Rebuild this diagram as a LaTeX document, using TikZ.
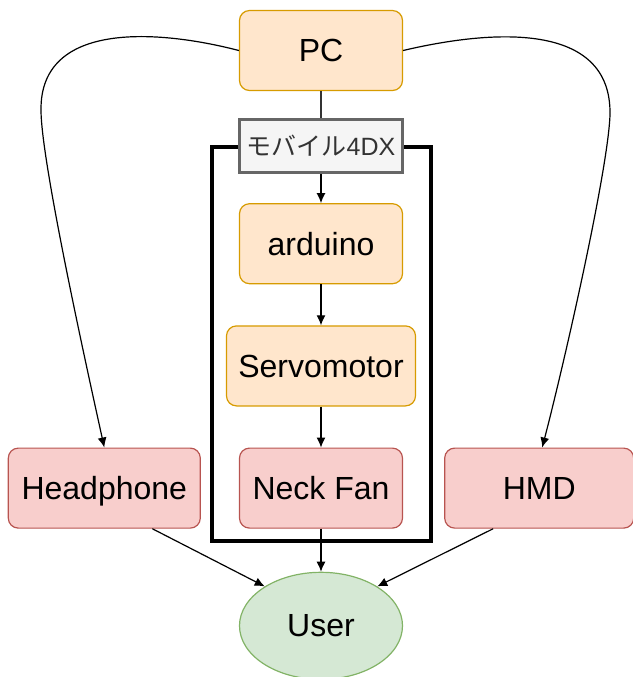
\documentclass[tikz,border=0pt]{standalone}
\usepackage{fontspec}
\setmainfont{Liberation Sans}
\newfontfamily\jpfont{Noto Sans CJK JP}
\usetikzlibrary{arrows.meta,positioning,shapes.geometric}

\definecolor{orfill}{HTML}{FFE6CC}
\definecolor{ordraw}{HTML}{D79B00}
\definecolor{rdfill}{HTML}{F8CECC}
\definecolor{rddraw}{HTML}{B85450}
\definecolor{gnfill}{HTML}{D5E8D4}
\definecolor{gndraw}{HTML}{82B366}
\definecolor{tagfill}{HTML}{F5F5F5}
\definecolor{tagdraw}{HTML}{666666}
\definecolor{tagtext}{HTML}{333333}

\begin{document}
\begin{tikzpicture}[x=0.5pt,y=-0.5pt,node distance=20.5pt,>={Latex[length=5pt,width=4.5pt]},
    box/.style={draw,rounded corners=5pt,minimum width=81.5pt,minimum height=40pt,%
      text depth=0pt,font=\fontsize{16}{19}\selectfont,line width=0.6pt},
    orbox/.style={box,fill=orfill,draw=ordraw},
    rdbox/.style={box,fill=rdfill,draw=rddraw},
    link/.style={->,line width=0.6pt}]
    \useasboundingbox (0,0) rectangle (633,677);
    \node[orbox] (pc) at (321,50.5) {PC};
    \node[orbox,below=56pt of pc] (ard) {arduino};
    \node[orbox,below=of ard,minimum width=94.5pt] (servo) {Servomotor};
    \node[rdbox,below=of servo] (neck) {Neck Fan};
    \node[rdbox,left=19pt of neck,minimum width=96pt] (head) {Headphone};
    \node[rdbox,right=of neck,minimum width=94.5pt] (hmd) {HMD};
    \node[ellipse,draw=gndraw,fill=gnfill,line width=0.6pt,minimum width=81.5pt,%
      minimum height=53.5pt,font=\fontsize{16}{19}\selectfont,below=21.5pt of neck] (user) {User};
    % 4DX frame
    \draw[line width=2pt] (212,147) rectangle (431,541);
    \node[draw=tagdraw,fill=tagfill,line width=1.5pt,minimum width=81.5pt,minimum height=26.5pt,%
      inner sep=1pt,text=tagtext,font=\fontsize{12.5}{14}\selectfont,above=14.5pt of ard] (tag)
      {{\jpfont モバイル}4DX};
    \coordinate (lbend) at (41,110);
    \coordinate (rbend) at (610,115);
    \draw[line width=0.6pt,draw=tagtext] (pc) -- (tag);
    \draw[link] (tag) -- (ard);
    \draw[link] (ard) -- (servo);
    \draw[link] (servo) -- (neck);
    \draw[link] (neck) -- (user);
    \draw[link] ([xshift=24pt]head.south) -- (user.145);
    \draw[link] ([xshift=-23pt]hmd.south) -- (user.35);
    \draw[link] (pc.west) .. controls (160,30) and (40,20) .. (lbend)
      .. controls (41,160) and (85,360) .. (head.north);
    \draw[link] (pc.east) .. controls (490,30) and (612,20) .. (rbend)
      .. controls (608,170) and (565,360) .. ([xshift=1.5pt]hmd.north);
\end{tikzpicture}
\end{document}
